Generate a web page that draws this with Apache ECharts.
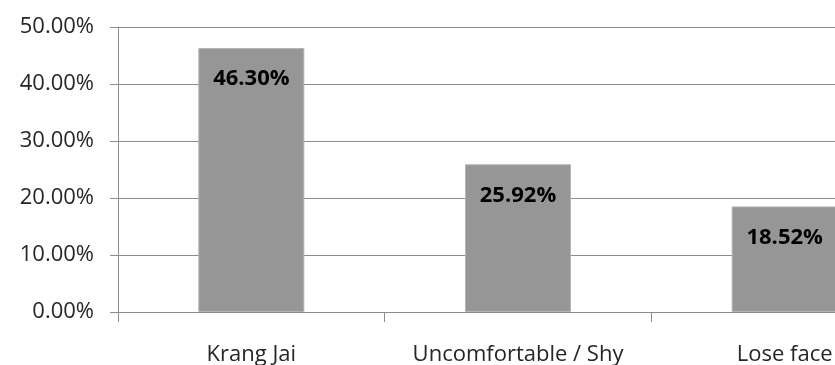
<!DOCTYPE html>
<html><head><meta charset="utf-8">
<script src="https://cdn.jsdelivr.net/npm/echarts@6/dist/echarts.min.js"></script>
<style>html,body{margin:0;padding:0;background:#fff}#c{width:835px;height:365px}</style>
</head><body><div id="c"></div>
<script>
const categories = ['Krang Jai', 'Uncomfortable / Shy', 'Lose face'];
const values = [46.30, 25.92, 18.52];
const yTicks = { min: 0, max: 50, interval: 10 };

const chart = echarts.init(document.getElementById('c'), null, { renderer: 'canvas' });
chart.setOption({
  animation: false,
  backgroundColor: '#ffffff',
  grid: { left: 118, top: 27, width: 800, height: 285, containLabel: false, outerBoundsMode: 'none' },
  xAxis: {
    type: 'category', data: categories,
    axisLine: { show: true, lineStyle: { color: '#8c8c8c', width: 1 } },
    axisTick: { show: true, length: 10, alignWithLabel: false, lineStyle: { color: '#8c8c8c' } },
    axisLabel: { margin: 32, color: '#262626', fontFamily: 'Open Sans', fontSize: 22, interval: 0 }
  },
  yAxis: {
    type: 'value', min: yTicks.min, max: yTicks.max, interval: yTicks.interval,
    axisLine: { show: true, lineStyle: { color: '#8c8c8c', width: 1 } },
    axisTick: { show: true, length: 8, lineStyle: { color: '#8c8c8c' } },
    splitLine: { show: true, lineStyle: { color: '#8c8c8c', width: 1 } },
    axisLabel: { margin: 24, color: '#262626', fontFamily: 'Open Sans', fontSize: 22,
      formatter: v => v.toFixed(2) + '%' }
  },
  series: [{
    type: 'bar', data: values, barWidth: 106,
    itemStyle: { color: '#969696', borderColor: '#b4b4b4', borderWidth: 1 },
    label: { show: true, position: 'insideTop', distance: 20, color: '#000', fontWeight: 'bold',
      fontFamily: 'Open Sans', fontSize: 22, formatter: p => p.value.toFixed(2) + '%' }
  }]
});
</script></body></html>
